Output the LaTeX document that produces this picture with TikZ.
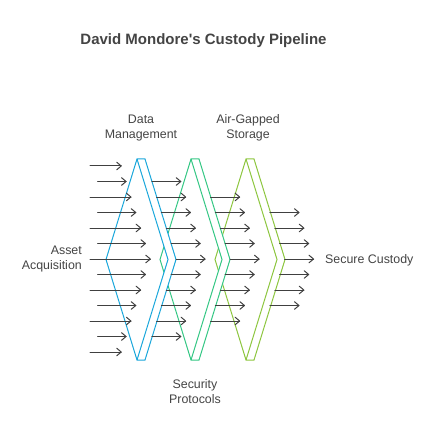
\documentclass[tikz,border=0pt]{standalone}
\usepackage{fontspec}
\setmainfont{Liberation Sans}

\definecolor{blueline}{HTML}{1AA7DB}
\definecolor{greenline}{HTML}{34C784}
\definecolor{limeline}{HTML}{8DC63F}
\definecolor{arrowgray}{HTML}{404040}
\definecolor{labelgray}{HTML}{444444}

\tikzset{
    chevron/.style={line width=1pt,fill=white,line join=miter},
    flow/.style={draw=arrowgray,line width=1pt,line join=round,line cap=round}
}
% shaft from (#1,#3) to (#2,#3) with an open head
\newcommand{\flowarrow}[3]{%
    \draw[flow] (#1,#3) -- (#2,#3);
    \draw[flow] (#2-4.5,#3+3.8) -- (#2,#3) -- (#2-4.5,#3-3.8);}

\begin{document}
\begin{tikzpicture}[x=1pt,y=1pt]
        \useasboundingbox (0,0) rectangle (432,-438);

        \node (title) at (203.5,-40.5) {\fontsize{15}{18}\selectfont\bfseries\color{labelgray}David Mondore\textquotesingle s Custody Pipeline};

        \begin{scope}[every node/.style={align=center,text=labelgray,
                        font=\fontsize{12.4}{15}\selectfont,inner sep=0pt}]
            \node (datamgmt) at (141,-128) {Data\\Management};
            \node (airgap) at (248,-128) {Air-Gapped\\Storage};
            \node (security) at (195,-391.5) {Security\\Protocols};
            \node (asset) at (82,-259.5) [anchor=east,align=right]{Asset\\Acquisition};
            \node (custody) at (325,-260) [anchor=west]{Secure Custody};
        \end{scope}

        % the three chevrons, back to front
        \foreach \x/\c in {246/limeline,191/greenline,137/blueline}
            \draw[chevron,draw=\c] (\x,-159) -- (\x-31,-259.5) -- (\x,-360) -- (\x+8,-360)
                -- (\x+39,-259.5) -- (\x+8,-159) -- cycle
                (\x,-159) -- (\x+31,-259.5) -- (\x,-360);

        % incoming arrows
        \foreach \k in {-6,...,6} {
            \pgfmathsetmacro\xa{isodd(\k) ? 97.7 : 90}
            \pgfmathsetmacro\xb{150.3-4.85*abs(\k)}
            \pgfmathsetmacro\yk{-259-15.5*\k}
            \flowarrow{\xa}{\xb}{\yk}
        }
        % arrows leaving each chevron
        \foreach \tip/\n in {176/5,230/4,284.5/3} {
            \foreach \k in {-\n,...,\n} {
                \pgfmathsetmacro\xa{\tip-4.85*abs(\k)}
                \pgfmathsetmacro\xb{\xa+29}
                \pgfmathsetmacro\yk{-259-15.5*\k}
                \flowarrow{\xa}{\xb}{\yk}
            }
        }
    \end{tikzpicture}
\end{document}
